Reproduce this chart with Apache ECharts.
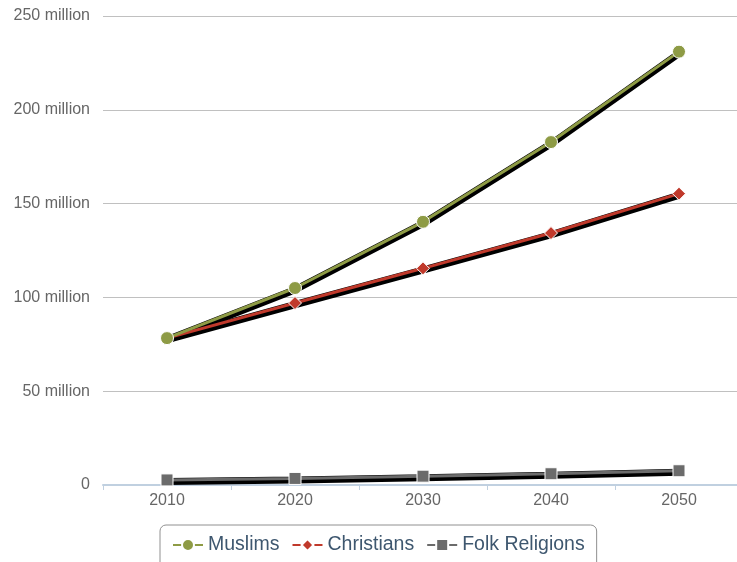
<!DOCTYPE html>
<html>
<head>
<meta charset="utf-8">
<script src="https://cdn.jsdelivr.net/npm/echarts@6/dist/echarts.min.js"></script>
<style>
html,body{margin:0;padding:0;background:#fff;overflow:hidden;width:737px;height:562px;}
#main{width:743px;height:562px;}
</style>
</head>
<body>
<div id="main"></div>
<script>
const years = ['2010', '2020', '2030', '2040', '2050'];
const muslims = [78.3, 105.0, 140.3, 182.8, 231.0];
const christians = [78.3, 97.0, 115.5, 134.3, 155.3];
const folk = [2.7, 3.5, 4.7, 6.0, 7.6];

const chart = echarts.init(document.getElementById('main'));
const FONT = '"Liberation Sans", Arial, sans-serif';
function shadowSeries(name, data) {
  return {
    name: name + ' shadow', type: 'line', data: data, symbol: 'none', z: 1,
    lineStyle: { color: '#000', width: 4, shadowColor: '#000', shadowBlur: 0, shadowOffsetX: 1, shadowOffsetY: 3 },
    emphasis: { disabled: true }, silent: true, animation: false
  };
}
function mk(name, data, color, symbol, size) {
  return {
    name: name, type: 'line', data: data, z: 3,
    symbol: symbol, symbolSize: size,
    itemStyle: { color: color, borderColor: '#fff', borderWidth: 1 },
    lineStyle: { color: color, width: 3 },
    emphasis: { disabled: true },
    animation: false
  };
}
chart.setOption({
  animation: false,
  grid: { left: 103, right: 0, top: 16, bottom: 77, containLabel: false },
  xAxis: {
    type: 'category', data: years, boundaryGap: true,
    axisLine: { lineStyle: { color: '#C0D0E0', width: 2 } },
    axisTick: { show: true, alignWithLabel: false, length: 5, lineStyle: { color: '#C0D0E0', width: 1 } },
    axisLabel: { color: '#666666', fontSize: 16, fontFamily: FONT, margin: 8 },
    splitLine: { show: false }
  },
  yAxis: {
    type: 'value', min: 0, max: 250, interval: 50,
    axisLine: { show: false }, axisTick: { show: false },
    axisLabel: { color: '#666666', fontSize: 16, fontFamily: FONT, margin: 13,
      formatter: function (v) { return v === 0 ? '0' : v + ' million'; } },
    splitLine: { lineStyle: { color: '#C0C0C0', width: 1 } }
  },
  legend: {
    top: 525, left: 160,
    data: ['Muslims', 'Christians', 'Folk Religions'],
    borderColor: '#909090', borderWidth: 1, borderRadius: 6,
    padding: [10, 12, 16, 12], itemGap: 12, itemWidth: 30, itemHeight: 15,
    textStyle: { color: '#3E576F', fontSize: 19.5, fontFamily: FONT }
  },
  series: [
    shadowSeries('Folk Religions', folk),
    shadowSeries('Christians', christians),
    shadowSeries('Muslims', muslims),
    mk('Folk Religions', folk, '#6B6B6B', 'rect', 12),
    mk('Christians', christians, '#C0392B', 'diamond', 13),
    mk('Muslims', muslims, '#8E9B45', 'circle', 13)
  ]
});
</script>
</body>
</html>
